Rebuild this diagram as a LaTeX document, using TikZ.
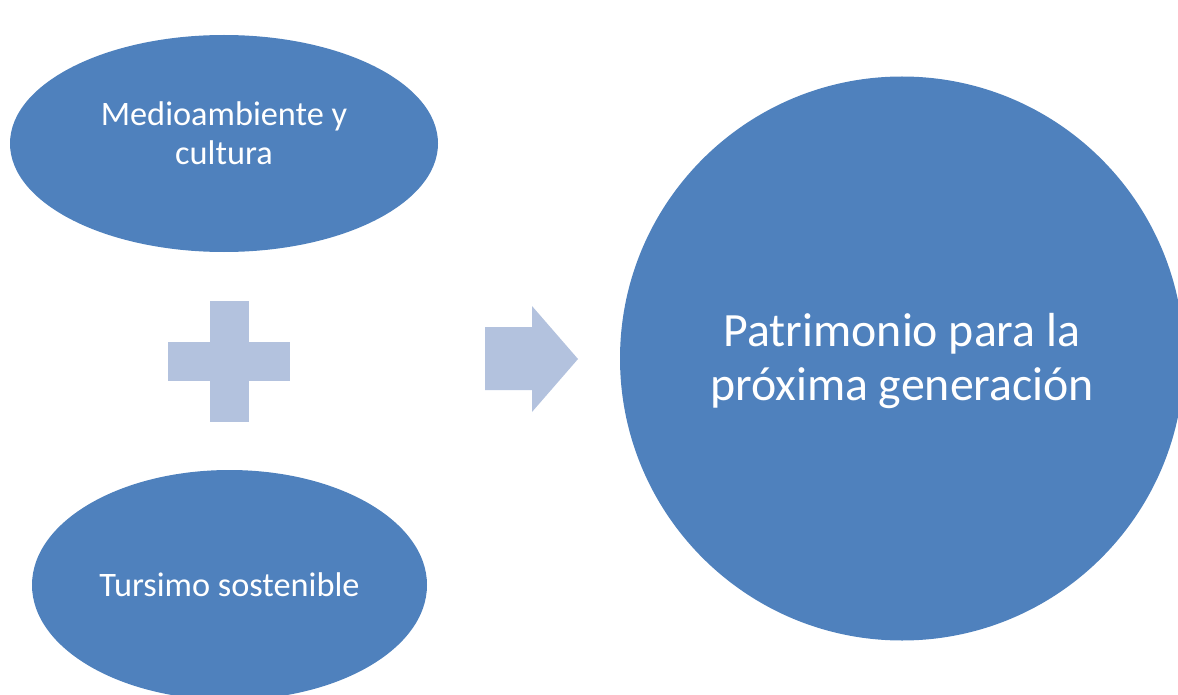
\documentclass[tikz,border=0pt]{standalone}
\usepackage{fontspec}
\setmainfont{Carlito}
\usetikzlibrary{shapes.geometric}
\definecolor{bubbleblue}{RGB}{79,129,189}
\definecolor{signblue}{RGB}{179,194,222}
\newcommand\smalltext{\fontsize{34.3}{39}\selectfont}
\newcommand\bigtext{\fontsize{47.8}{54}\selectfont}
\tikzset{
  bubble/.style={ellipse, fill=bubbleblue, inner sep=0pt},
  bigbubble/.style={circle, fill=bubbleblue, inner sep=0pt},
  bubbletext/.style={text=white, inner sep=0pt, align=center, font=\smalltext},
  bigtext/.style={text=white, inner sep=0pt, align=center, font=\bigtext},
  sign/.style={fill=signblue},
}
\begin{document}
\begin{tikzpicture}[x=1pt, y=-1pt]
  \useasboundingbox (0,0) rectangle (1178,695);
  \clip (0,0) rectangle (1178,695);
  % left column
  \node[bubble, minimum width=428pt, minimum height=217pt] (medio) at (224,143.5) {};
  \node[bubbletext, yshift=10pt] (medio-text) at (medio.center) {Medioambiente y\\cultura};
  \node[bubble, minimum width=395pt, minimum height=230pt] (turismo) at (229.5,585) {};
  \node[bubbletext] (turismo-text) at (turismo.center) {Tursimo sostenible};
  % plus
  \fill[sign] (168,342) rectangle (290,381);
  \fill[sign] (210,301) rectangle (249,422);
  % arrow
  \fill[sign] (485,327) -- (532,327) -- (532,306) -- (578,359) -- (532,412) -- (532,390) -- (485,390) -- cycle;
  % result
  \node[bigbubble, minimum size=564pt] (patrimonio) at (902,358.5) {};
  \node[bigtext, yshift=-3pt] (patrimonio-text) at (patrimonio.center) {Patrimonio para la\\próxima generación};
\end{tikzpicture}
\end{document}
